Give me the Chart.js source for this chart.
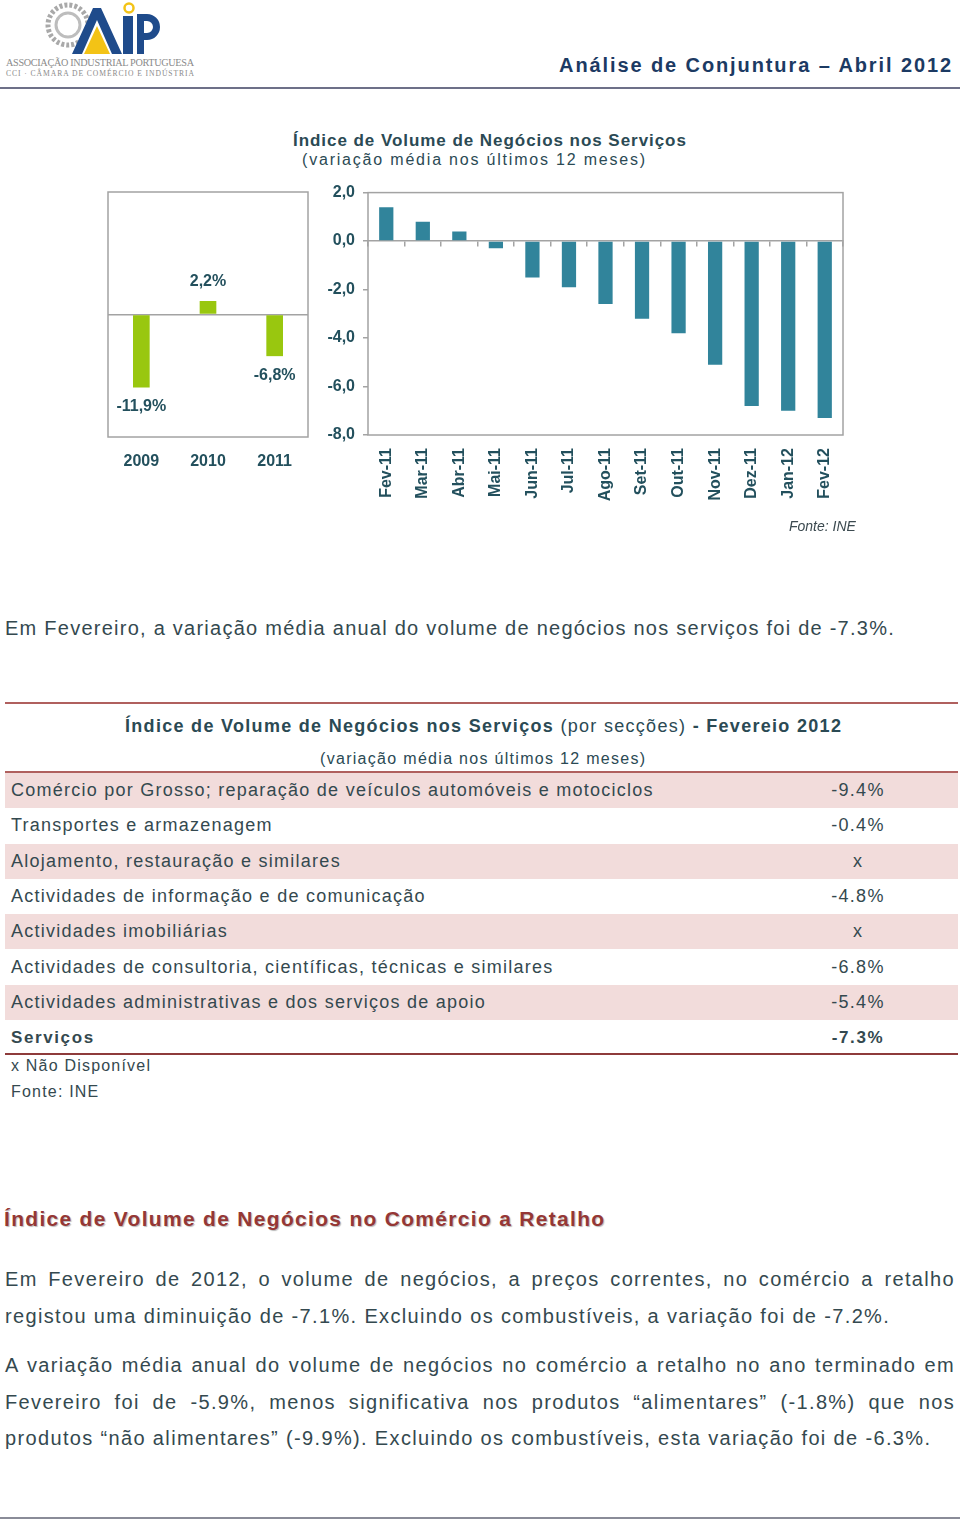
<!DOCTYPE html>
<html lang="pt">
<head>
<meta charset="utf-8">
<title>Análise de Conjuntura – Abril 2012</title>
<script src="https://cdn.jsdelivr.net/npm/chart.js@4"></script>
<style>
  html, body { margin: 0; padding: 0; background: #fff; }
  body { width: 960px; height: 1526px; position: relative; overflow: hidden;
         font-family: "Liberation Sans Narrow", "Liberation Sans", Arial, sans-serif; color: #34494f; }
  .abs { position: absolute; }
  .head-title { right: 7px; top: 54px; font-family: "Liberation Sans", Arial, sans-serif; font-weight: bold;
                font-size: 20px; letter-spacing: 1.9px; color: #1c3a63; }
  .rule { left: 0; height: 0; }
  .ctitle { color: #2b4a54; white-space: nowrap; }
  .txt { left: 5px; width: 950px; font-size: 20px; letter-spacing: 1.35px; line-height: 36.5px; color: #34494f; }
  .txt div { text-align: justify; text-align-last: justify; white-space: nowrap; }
  .txt div.end { text-align-last: left; }
  table { border-collapse: collapse; width: 953px; }
  td { height: 35.3px; padding: 0 0 0 6px; font-size: 18px; letter-spacing: 1.25px; color: #34494f; }
  td.v { width: 120px; text-align: center; padding: 0 40px 0 0; }
  tr.pk td { background: #f2dcdb; }
</style>
</head>
<body>

<!-- logotipo (aproximado) -->
<svg class="abs" style="left:4px;top:0" width="195" height="80" viewBox="0 0 195 80">
  <circle cx="64" cy="25" r="20" fill="none" stroke="#a9a9a9" stroke-width="5" stroke-dasharray="3 2"/>
  <circle cx="64" cy="25" r="12" fill="none" stroke="#bdbdbd" stroke-width="3"/>
  <polygon points="68,54 89,8 97,8 118,54 108,54 93,20 78,54" fill="#1f4b8b"/>
  <polygon points="80,54 93,26 106,54" fill="#f3c316"/>
  <circle cx="125" cy="8" r="4.5" fill="none" stroke="#f3c316" stroke-width="2.5"/>
  <rect x="119" y="16" width="10" height="38" fill="#1f4b8b"/>
  <path d="M133 14 h10 a13 13 0 0 1 0 26 h-3 v14 h-7 z M140 21 v12 h3 a6 6 0 0 0 0 -12 z" fill="#1f4b8b" fill-rule="evenodd"/>
  <text x="2" y="66" font-family="Liberation Serif, serif" font-size="10.2" fill="#8a8a8a" textLength="188">ASSOCIAÇÃO INDUSTRIAL PORTUGUESA</text>
  <text x="2" y="76" font-family="Liberation Serif, serif" font-size="7.6" fill="#8a8a8a" textLength="188">CCI · CÂMARA DE COMÉRCIO E INDÚSTRIA</text>
</svg>
<div class="abs head-title">Análise de Conjuntura – Abril 2012</div>
<div class="abs rule" style="top:87px;width:960px;border-top:2px solid #6d7088"></div>

<!-- gráfico -->
<div class="abs ctitle" style="left:293px;top:131px;font-size:17px;letter-spacing:0.95px;font-weight:bold">Índice de Volume de Negócios nos Serviços</div>
<div class="abs ctitle" style="left:302px;top:151px;font-size:16px;letter-spacing:1.8px">(variação média nos últimos 12 meses)</div>

<div class="abs" style="left:100px;top:180px;width:220px;height:300px"><canvas id="anual" width="220" height="300"></canvas></div>
<div class="abs" style="left:318px;top:175px;width:545px;height:340px"><canvas id="mensal" width="545" height="340"></canvas></div>
<div class="abs" style="left:789px;top:518px;font-family:'Liberation Sans',Arial,sans-serif;font-style:italic;font-size:14px;color:#3c4a50">Fonte: INE</div>

<div class="abs txt" style="top:610px;letter-spacing:1.25px">Em Fevereiro, a variação média anual do volume de negócios nos serviços foi de -7.3%.</div>

<!-- quadro por secções -->
<div class="abs rule" style="top:702px;left:5px;width:953px;border-top:2px solid #b0605e"></div>
<div class="abs ctitle" style="left:125px;top:716px;font-size:18px;letter-spacing:1.3px"><b>Índice de Volume de Negócios nos Serviços</b> (por secções) <b>- Fevereio 2012</b></div>
<div class="abs ctitle" style="left:320px;top:750px;font-size:16px;letter-spacing:1.3px">(variação média nos últimos 12 meses)</div>
<div class="abs rule" style="top:771px;left:5px;width:953px;border-top:2px solid #b0605e"></div>
<div class="abs" style="left:5px;top:773px"><table id="quadro"></table></div>
<div class="abs rule" style="top:1053px;left:5px;width:953px;border-top:2px solid #8e3b3b"></div>
<div class="abs" style="left:11px;top:1057px;font-size:16px;letter-spacing:1.2px">x Não Disponível</div>
<div class="abs" style="left:11px;top:1083px;font-size:16px;letter-spacing:1.2px">Fonte: INE</div>

<!-- comércio a retalho -->
<div class="abs" style="left:4px;top:1207px;font-size:21px;font-weight:bold;letter-spacing:1.3px;color:#953735;text-shadow:1px 1px 1px #b9b9b9">Índice de Volume de Negócios no Comércio a Retalho</div>
<div class="abs txt" style="top:1261px">
  <div>Em Fevereiro de 2012, o volume de negócios, a preços correntes, no comércio a retalho</div>
  <div class="end">registou uma diminuição de -7.1%. Excluindo os combustíveis, a variação foi de -7.2%.</div>
</div>
<div class="abs txt" style="top:1347px">
  <div>A variação média anual do volume de negócios no comércio a retalho no ano terminado em</div>
  <div>Fevereiro foi de -5.9%, menos significativa nos produtos “alimentares” (-1.8%) que nos</div>
  <div class="end">produtos “não alimentares” (-9.9%). Excluindo os combustíveis, esta variação foi de -6.3%.</div>
</div>
<div class="abs rule" style="top:1517px;width:960px;border-top:2px solid #8a8c98"></div>

<script>
// variação média nos últimos 12 meses (%)
const years = ['2009', '2010', '2011'];
const yearValues = [-11.9, 2.2, -6.8];

const months = ['Fev-11', 'Mar-11', 'Abr-11', 'Mai-11', 'Jun-11', 'Jul-11', 'Ago-11',
                'Set-11', 'Out-11', 'Nov-11', 'Dez-11', 'Jan-12', 'Fev-12'];
const monthValues = [1.4, 0.8, 0.4, -0.3, -1.5, -1.9, -2.6, -3.2, -3.8, -5.1, -6.8, -7.0, -7.3];

// quadro por secções
const sections = [
  'Comércio por Grosso; reparação de veículos automóveis e motociclos',
  'Transportes e armazenagem',
  'Alojamento, restauração e similares',
  'Actividades de informação e de comunicação',
  'Actividades imobiliárias',
  'Actividades de consultoria, científicas, técnicas e similares',
  'Actividades administrativas e dos serviços de apoio',
  'Serviços'
];
const sectionValues = ['-9.4%', '-0.4%', 'x', '-4.8%', 'x', '-6.8%', '-5.4%', '-7.3%'];

const table = document.getElementById('quadro');
sections.forEach((name, i) => {
  const tr = document.createElement('tr');
  const last = i === sections.length - 1;
  if (i % 2 === 0 && !last) tr.className = 'pk';
  const bold = last ? ' style="font-weight:bold;font-family:Liberation Sans,Arial;font-size:17px;letter-spacing:1.6px"' : '';
  tr.innerHTML = '<td' + bold + '>' + name + '</td><td class="v"' + bold + '>' + sectionValues[i] + '</td>';
  table.appendChild(tr);
});

const ink = '#23505d';
const frame = '#a3a3a3';
const fmt = v => v.toFixed(1).replace('.', ',');

// moldura da área do gráfico (estilo Excel)
const boxPlugin = {
  id: 'box',
  afterDraw(chart) {
    const a = chart.chartArea, c = chart.ctx;
    c.save();
    c.strokeStyle = frame;
    c.lineWidth = 1.5;
    c.strokeRect(a.left, a.top, a.right - a.left, a.bottom - a.top);
    c.restore();
  }
};

// rótulos de valor nas barras anuais
const labelPlugin = {
  id: 'labels',
  afterDatasetsDraw(chart) {
    const c = chart.ctx;
    const meta = chart.getDatasetMeta(0);
    c.save();
    c.font = 'bold 16px "Liberation Sans", Arial, sans-serif';
    c.fillStyle = ink;
    c.textAlign = 'center';
    c.textBaseline = 'middle';
    meta.data.forEach((bar, i) => {
      const v = yearValues[i];
      c.fillText(fmt(v) + '%', bar.x, v >= 0 ? bar.y - 19 : bar.y + 19);
    });
    c.restore();
  }
};

Chart.defaults.font.family = '"Liberation Sans", Arial, sans-serif';
Chart.defaults.animation = false;

new Chart(document.getElementById('anual'), {
  type: 'bar',
  data: {
    labels: years,
    datasets: [{ data: yearValues, backgroundColor: '#99c70f', barPercentage: 0.25, categoryPercentage: 1 }]
  },
  options: {
    responsive: false,
    layout: { padding: { left: 8, right: 12, top: 12, bottom: 0 } },
    plugins: { legend: { display: false }, tooltip: { enabled: false } },
    scales: {
      x: {
        grid: { display: false },
        border: { display: false },
        ticks: { color: ink, font: { size: 16, weight: 'bold' }, padding: 7 },
        afterFit(s) { s.height = 43; }
      },
      y: {
        min: -20, max: 20,
        ticks: { display: false },
        border: { display: false },
        grid: { drawTicks: false, color: ctx => ctx.tick.value === 0 ? frame : 'transparent', lineWidth: 1.5 },
        afterFit(s) { s.width = 0; }
      }
    }
  },
  plugins: [boxPlugin, labelPlugin]
});

new Chart(document.getElementById('mensal'), {
  type: 'bar',
  data: {
    labels: months,
    datasets: [{ data: monthValues, backgroundColor: '#31849b', barPercentage: 0.39, categoryPercentage: 1 }]
  },
  options: {
    responsive: false,
    layout: { padding: { left: 0, right: 20, top: 2, bottom: 0 } },
    plugins: { legend: { display: false }, tooltip: { enabled: false } },
    scales: {
      x: {
        grid: { display: false },
        border: { display: false },
        ticks: { color: ink, font: { size: 16, weight: 'bold' }, minRotation: 90, maxRotation: 90, padding: 5, autoSkip: false },
        afterFit(s) { s.height = 80; }
      },
      // eixo das categorias a cruzar no zero, com marcas entre meses
      x0: {
        type: 'category',
        labels: months,
        position: { y: 0 },
        offset: true,
        ticks: { display: false },
        grid: { offset: true, drawOnChartArea: false, drawTicks: true, tickLength: 5, color: frame, lineWidth: 1.5 },
        border: { display: true, color: frame, width: 1.5 }
      },
      y: {
        min: -8, max: 2,
        ticks: { stepSize: 2, color: ink, font: { size: 16, weight: 'bold' }, padding: 8, callback: v => fmt(v) },
        border: { display: false },
        grid: { drawOnChartArea: false, drawTicks: true, tickLength: 5, color: frame, lineWidth: 1.5 },
        afterFit(s) { s.width = 50; }
      }
    }
  },
  plugins: [boxPlugin]
});
</script>
</body>
</html>
